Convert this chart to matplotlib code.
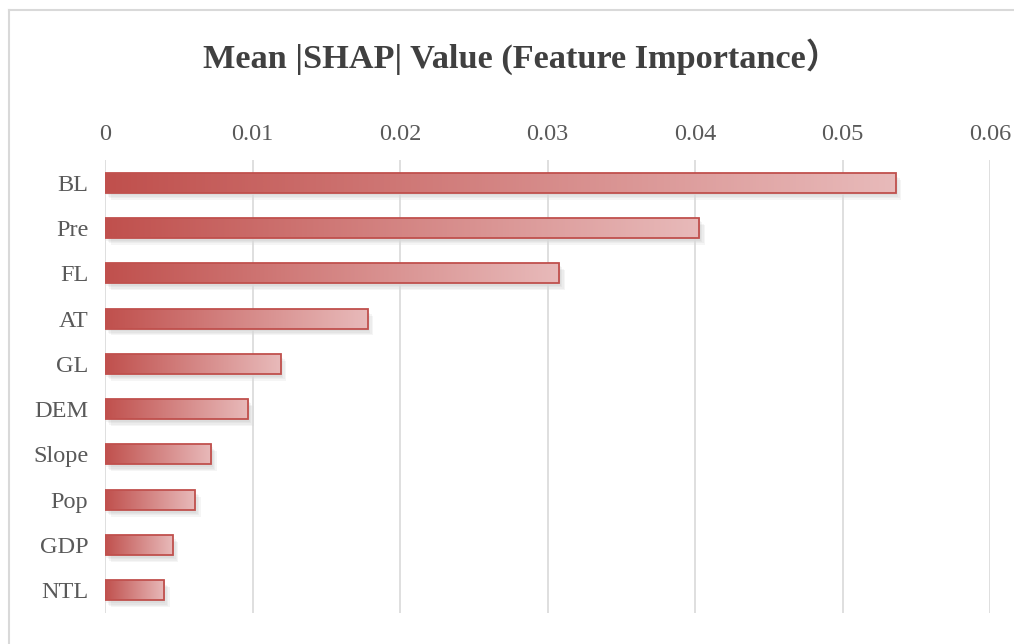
import numpy as np
import matplotlib
matplotlib.use("Agg")
from matplotlib import pyplot as plt
from matplotlib import patheffects as pe
from matplotlib.colors import LinearSegmentedColormap
from matplotlib.lines import Line2D

features = ['BL', 'Pre', 'FL', 'AT', 'GL', 'DEM', 'Slope', 'Pop', 'GDP', 'NTL']
shap_vals = [0.0536, 0.0403, 0.0308, 0.0178, 0.0119, 0.0097, 0.0072, 0.0061, 0.0046, 0.0040]
xticks = [0, 0.01, 0.02, 0.03, 0.04, 0.05, 0.06]
xtick_labels = ['0', '0.01', '0.02', '0.03', '0.04', '0.05', '0.06']
title = 'Mean |SHAP| Value (Feature Importance）'

serif = ['Liberation Serif', 'Noto Sans CJK SC', 'DejaVu Serif']
plt.rcParams['font.family'] = serif

fig = plt.figure(figsize=(10.14, 6.44), dpi=100)
ax = fig.add_axes([0.1036, 0.0481, 0.8728, 0.7035])

# frame lines of the chart area (top and left only visible)
fig.add_artist(Line2D([9/1014, 9/1014], [0, 1 - 10/644], color='#d9d9d9', lw=1.5))
fig.add_artist(Line2D([9/1014, 1], [1 - 10/644, 1 - 10/644], color='#d9d9d9', lw=1.5))

cmap = LinearSegmentedColormap.from_list('redgrad', ['#c0504d', '#e8baba'])
grad = np.linspace(0, 1, 256).reshape(1, -1)
h = 0.44
ypos = np.arange(len(features))

# soft shadow
shadow = [pe.SimplePatchShadow(offset=(d, -d - 1), shadow_rgbFace='#7f7f7f', alpha=0.07)
          for d in (1, 2, 3, 4)]
ax.barh(ypos, shap_vals, height=h, facecolor='none', edgecolor='none',
        zorder=1.5, path_effects=shadow)

for y, v in zip(ypos, shap_vals):
    ax.imshow(grad, extent=[0, v, y + h / 2, y - h / 2], cmap=cmap,
              aspect='auto', zorder=2, interpolation='bilinear')

ax.barh(ypos, shap_vals, height=h, facecolor='none', edgecolor='#c0504d',
        linewidth=1.3, zorder=3)

ax.set_xlim(0, 0.06)
ax.set_ylim(len(features) - 0.5, -0.5)
ax.set_xticks(xticks)
ax.set_xticklabels(xtick_labels)
ax.set_yticks(ypos)
ax.set_yticklabels(features)
ax.xaxis.tick_top()
ax.tick_params(axis='both', length=0, labelsize=17.5, colors='#595959')
ax.tick_params(axis='x', pad=11)
ax.tick_params(axis='y', pad=12)
ax.grid(axis='x', color='#d9d9d9', lw=1.2, zorder=0)
for s in ax.spines.values():
    s.set_visible(False)

fig.text(0.514, 1 - 57/644, title, ha='center', va='center', fontsize=24.7,
         fontweight='bold', color='#404040', family=serif)

fig.savefig('out.png', dpi=100)
